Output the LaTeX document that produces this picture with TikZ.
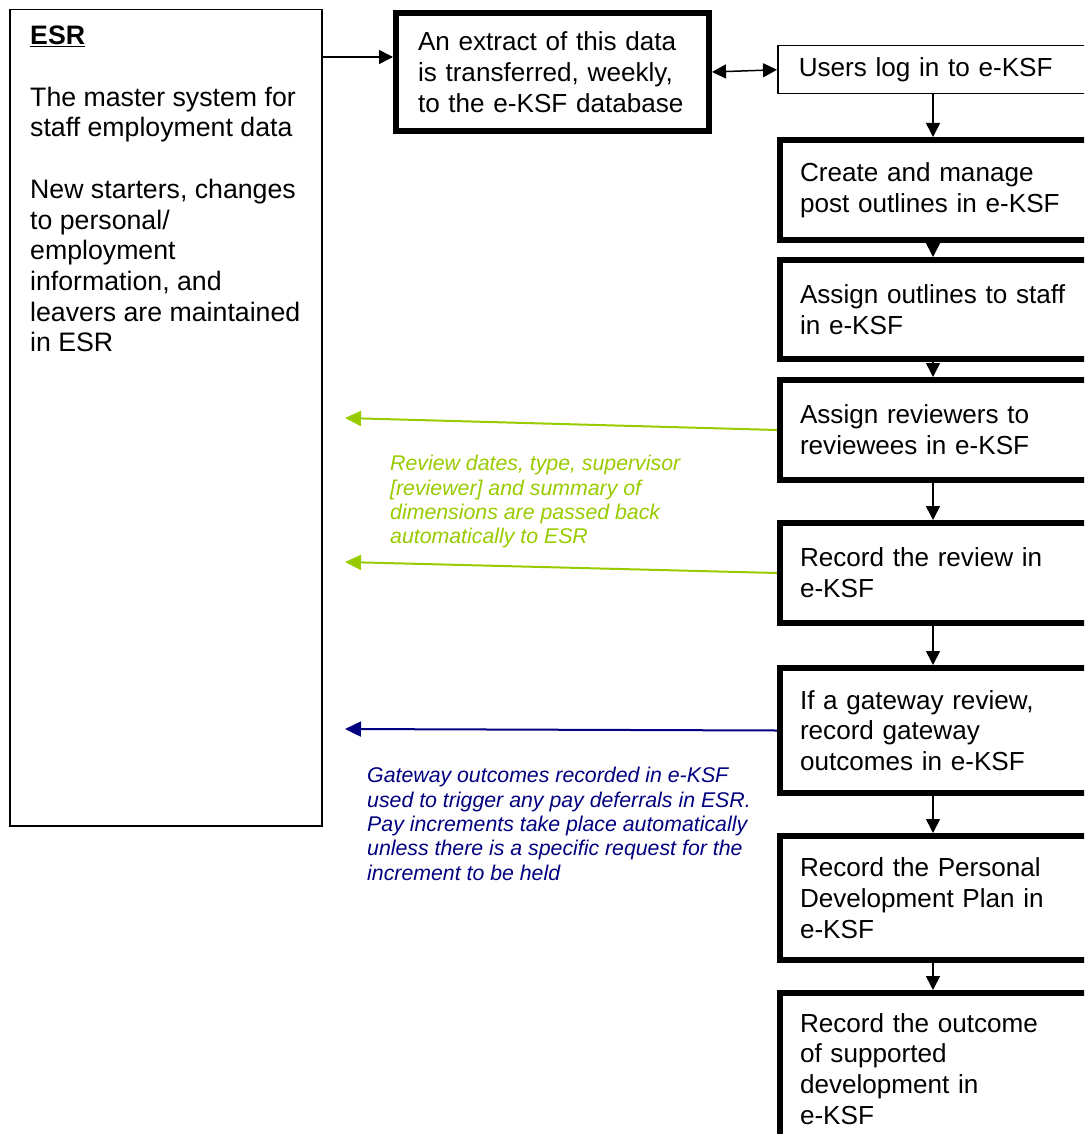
\documentclass[tikz,border=0pt]{standalone}
\usepackage{fontspec}
\setmainfont{Liberation Sans}
\usetikzlibrary{arrows.meta,calc}
\definecolor{kgreen}{RGB}{153,204,0}
\definecolor{knavy}{RGB}{0,0,128}
\begin{document}
\begin{tikzpicture}[x=1pt,y=-1pt,
  every node/.style={font=\fontsize{26.1}{30.7}\selectfont},
  thickbox/.style={draw, line width=6pt, anchor=north west, inner xsep=20pt, inner ysep=0pt, text width=290pt, align=left},
  thinbox/.style={draw, line width=1.5pt, anchor=north west, inner xsep=21pt, inner ysep=0pt, text width=290pt, align=left},
  arr/.style={line width=1.5pt, -{Triangle[length=14pt,width=14pt]}},
  darr/.style={line width=1.5pt, {Triangle[length=14pt,width=14pt]}-{Triangle[length=14pt,width=14pt]}},
  garr/.style={line width=2pt, draw=kgreen, -{Triangle[length=16pt,width=15pt]}, color=kgreen},
  barr/.style={line width=2pt, draw=knavy, -{Triangle[length=16pt,width=15pt]}, color=knavy},
  note/.style={anchor=north west, align=left, inner sep=0pt, font=\fontsize{21.3}{24.4}\selectfont\itshape}
]
\useasboundingbox (0,0) rectangle (1084,1134);
\fill[white] (0,0) rectangle (1084,1134);
\clip (0,0) rectangle (1084,1134);

% ESR box
\node[draw, line width=1.5pt, minimum width=312pt, minimum height=816pt, anchor=north west, inner sep=0pt] (esr) at (9,9) {};
\node[anchor=north west, align=left, inner sep=0pt, font=\fontsize{26.7}{30.7}\selectfont] (esrtext) at (30,26) {\textbf{\underline{ESR}}\\[30.7pt]
The master system for\\
staff employment data\\[30.7pt]
New starters, changes\\
to personal/\\
employment\\
information, and\\
leavers are maintained\\
in ESR};

% extract box
\node[draw, line width=6pt, anchor=north west, inner xsep=22pt, inner ysep=0pt, text width=269pt, align=left, minimum height=118pt] (ex) at (393,10) {An extract of this data\\is transferred, weekly,\\to the e-KSF database};

% right column
\node[thinbox, minimum height=48pt] (users) at (777,45) {Users log in to e-KSF};
\node[thickbox, minimum height=100pt] (b1) at (777,137) {Create and manage\\post outlines in e-KSF};
\node[thickbox, minimum height=99pt] (b2) at (777,257) {Assign outlines to staff\\in e-KSF};
\node[thickbox, minimum height=100pt] (b3) at (777,377) {Assign reviewers to\\reviewees in e-KSF};
\node[thickbox, minimum height=100pt] (b4) at (777,520) {Record the review in\\e-KSF};
\node[thickbox, minimum height=125pt] (b5) at (777,665) {If a gateway review,\\record gateway\\outcomes in e-KSF};
\node[thickbox, minimum height=124pt] (b6) at (777,833) {Record the Personal\\Development Plan in\\e-KSF};
\node[thickbox, minimum height=152pt] (b7) at (777,990) {Record the outcome\\of supported\\development in\\e-KSF};

% connectors
\draw[arr] ($(esr.north east)+(0,48)$) -- ($(ex.north west)+(0,47)$);
\draw[darr] (ex.east) -- (users.west);
\draw[arr] ($(users.south west)+(156,0)$) -- ($(b1.north west)+(156,0)$);
\draw[arr] ($(b1.south west)+(156,0)$) -- ($(b2.north west)+(156,0)$);
\draw[arr] ($(b2.south west)+(156,0)$) -- ($(b3.north west)+(156,0)$);
\draw[arr] ($(b3.south west)+(156,0)$) -- ($(b4.north west)+(156,0)$);
\draw[arr] ($(b4.south west)+(156,0)$) -- ($(b5.north west)+(156,0)$);
\draw[arr] ($(b5.south west)+(156,0)$) -- ($(b6.north west)+(156,0)$);
\draw[arr] ($(b6.south west)+(156,0)$) -- ($(b7.north west)+(156,0)$);

% feedback arrows
\coordinate (g1) at (345,418);
\coordinate (g2) at (345,562);
\coordinate (n1) at (345,729);
\draw[garr] (b3.west) -- (g1);
\draw[garr] (b4.west) -- (g2);
\draw[barr] (b5.west) -- (n1);

\node[note, text=kgreen] (gtxt) at (390,455) {Review dates, type, supervisor\\
{[}reviewer{]} and summary of\\
dimensions are passed back\\
automatically to ESR};
\node[note, text=knavy] (btxt) at (367,767) {Gateway outcomes recorded in e-KSF\\
used to trigger any pay deferrals in ESR.\\
Pay increments take place automatically\\
unless there is a specific request for the\\
increment to be held};
\end{tikzpicture}
\end{document}
